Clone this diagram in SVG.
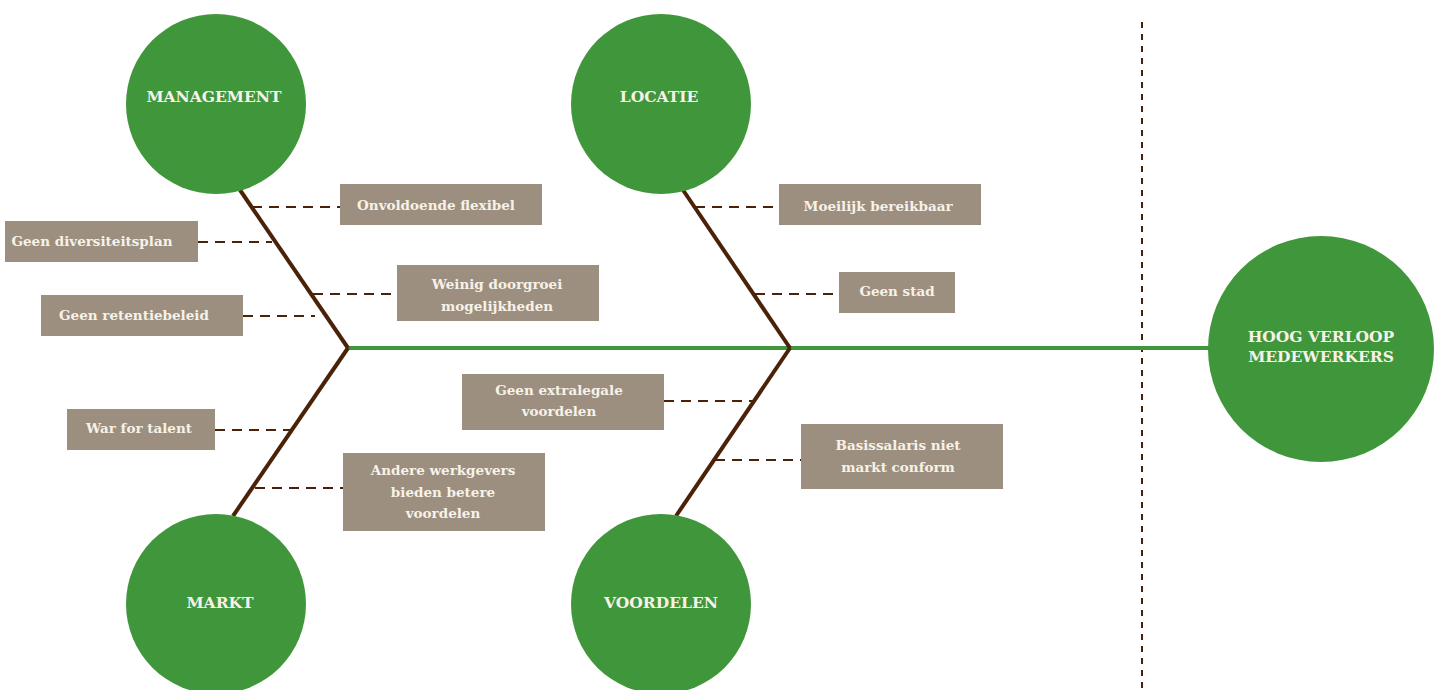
<svg xmlns="http://www.w3.org/2000/svg" width="1441" height="690" viewBox="0 0 1441 690">
<style>
.circ{fill:#40963B}
.ct{fill:#F7F2E8;font-family:"DejaVu Serif","Liberation Serif",serif;font-weight:bold;font-size:15.5px;text-anchor:middle}
.box{fill:#9C8F7F}
.bt{fill:#F7F2E8;font-family:"DejaVu Serif","Liberation Serif",serif;font-weight:bold;font-size:13.5px;text-anchor:middle}
.bone{stroke:#4A2208;stroke-width:4;fill:none}
.dash{stroke:#4A2208;stroke-width:2;stroke-dasharray:10,7;fill:none}
.spine{stroke:#40963B;stroke-width:4;fill:none}
</style>
<rect width="1441" height="690" fill="#FFFFFF"/>
<g id="connectors">
<line class="dash" x1="1142" y1="22" x2="1142" y2="690" style="stroke-dasharray:6,6"/>
<line class="spine" x1="348" y1="348" x2="1210" y2="348"/>
<line class="bone" x1="240" y1="190" x2="348" y2="348"/>
<line class="bone" x1="348" y1="348" x2="233" y2="516"/>
<line class="bone" x1="683" y1="190" x2="790" y2="348"/>
<line class="bone" x1="790" y1="348" x2="676" y2="516"/>
<line class="dash" x1="252" y1="207" x2="340" y2="207"/>
<line class="dash" x1="198" y1="242" x2="272" y2="242"/>
<line class="dash" x1="313" y1="294" x2="397" y2="294"/>
<line class="dash" x1="243" y1="316" x2="315" y2="316"/>
<line class="dash" x1="215" y1="430" x2="290" y2="430"/>
<line class="dash" x1="255" y1="488" x2="343" y2="488"/>
<line class="dash" x1="695" y1="207" x2="779" y2="207"/>
<line class="dash" x1="755" y1="294" x2="839" y2="294"/>
<line class="dash" x1="664" y1="401" x2="753" y2="401"/>
<line class="dash" x1="715" y1="460" x2="801" y2="460"/>
</g>
<g id="management"><circle class="circ" cx="216" cy="104" r="90"/><text class="ct" x="214" y="102">MANAGEMENT</text></g>
<g id="locatie"><circle class="circ" cx="661" cy="104" r="90"/><text class="ct" x="659" y="102">LOCATIE</text></g>
<g id="markt"><circle class="circ" cx="216" cy="604" r="90"/><text class="ct" x="220" y="608">MARKT</text></g>
<g id="voordelen"><circle class="circ" cx="661" cy="604" r="90"/><text class="ct" x="661" y="608">VOORDELEN</text></g>
<g id="hoog-verloop"><circle class="circ" cx="1321" cy="349" r="113"/><text class="ct" x="1321" y="342">HOOG VERLOOP</text><text class="ct" x="1321" y="362">MEDEWERKERS</text></g>
<g id="onvoldoende-flexibel"><rect class="box" x="340" y="184" width="202" height="41"/><text class="bt" x="436" y="210">Onvoldoende flexibel</text></g>
<g id="geen-diversiteitsplan"><rect class="box" x="5" y="221" width="193" height="41"/><text class="bt" x="92" y="246">Geen diversiteitsplan</text></g>
<g id="weinig-doorgroei"><rect class="box" x="397" y="265" width="202" height="56"/><text class="bt" x="497" y="289">Weinig doorgroei</text><text class="bt" x="497" y="311">mogelijkheden</text></g>
<g id="geen-retentiebeleid"><rect class="box" x="41" y="295" width="202" height="41"/><text class="bt" x="134" y="320">Geen retentiebeleid</text></g>
<g id="war-for-talent"><rect class="box" x="67" y="409" width="148" height="41"/><text class="bt" x="139" y="433">War for talent</text></g>
<g id="andere-werkgevers"><rect class="box" x="343" y="453" width="202" height="78"/><text class="bt" x="443" y="475">Andere werkgevers</text><text class="bt" x="443" y="497">bieden betere</text><text class="bt" x="443" y="518">voordelen</text></g>
<g id="moeilijk-bereikbaar"><rect class="box" x="779" y="184" width="202" height="41"/><text class="bt" x="878" y="211">Moeilijk bereikbaar</text></g>
<g id="geen-stad"><rect class="box" x="839" y="272" width="116" height="41"/><text class="bt" x="897" y="296">Geen stad</text></g>
<g id="geen-extralegale"><rect class="box" x="462" y="374" width="202" height="56"/><text class="bt" x="559" y="395">Geen extralegale</text><text class="bt" x="559" y="416">voordelen</text></g>
<g id="basissalaris"><rect class="box" x="801" y="424" width="202" height="65"/><text class="bt" x="898" y="450">Basissalaris niet</text><text class="bt" x="898" y="472">markt conform</text></g>
</svg>
